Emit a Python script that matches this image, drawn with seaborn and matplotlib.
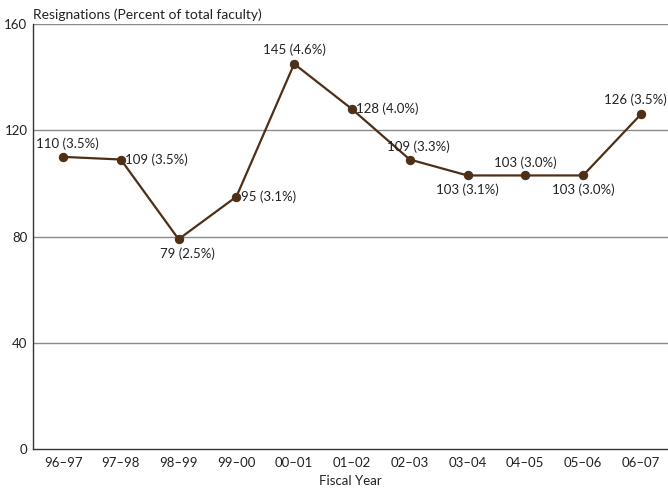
import matplotlib
matplotlib.use("Agg")
import matplotlib.pyplot as plt
import seaborn as sns
import pandas as pd

years = ["96–97", "97–98", "98–99", "99–00", "00–01", "01–02", "02–03", "03–04", "04–05", "05–06", "06–07"]
resignations = [110, 109, 79, 95, 145, 128, 109, 103, 103, 103, 126]
percents = ["3.5%", "3.5%", "2.5%", "3.1%", "4.6%", "4.0%", "3.3%", "3.1%", "3.0%", "3.0%", "3.5%"]
yticks = [0, 40, 80, 120, 160]

# label placement: (dx, dy, ha, va) in points
placements = [
    (3, 5, "center", "bottom"),
    (3, 0, "left", "center"),
    (6, -6, "center", "top"),
    (3, 0, "left", "center"),
    (0, 6, "center", "bottom"),
    (3, 0, "left", "center"),
    (6, 5, "center", "bottom"),
    (0, -6, "center", "top"),
    (0, 5, "center", "bottom"),
    (0, -6, "center", "top"),
    (-4, 6, "center", "bottom"),
]

sns.set_theme(style="white")
plt.rcParams["font.family"] = ["Lato", "DejaVu Sans"]

color = "#4e2f17"
fs = 9.5
df = pd.DataFrame({"year": years, "value": resignations, "x": range(len(years))})

fig = plt.figure(figsize=(6.68, 4.91), dpi=100)
ax = fig.add_axes([0.0494, 0.0855, 0.9506, 0.8655])

for y in yticks[1:]:
    ax.axhline(y, color="#8a8a8a", lw=1.0, zorder=0)

sns.lineplot(data=df, x="x", y="value", ax=ax, color=color, lw=1.6,
             marker="o", markersize=6, markeredgecolor=color, markerfacecolor=color)

for i, (v, p) in enumerate(zip(resignations, percents)):
    dx, dy, ha, va = placements[i]
    ax.annotate(f"{v} ({p})", (i, v), xytext=(dx, dy), textcoords="offset points",
                ha=ha, va=va, fontsize=fs, color="#222222")

ax.set_xlim(-0.52, 10.47)
ax.set_ylim(0, 160)
ax.set_xticks(range(len(years)))
ax.set_xticklabels(years, fontsize=fs, color="#222222")
ax.set_yticks(yticks)
ax.set_yticklabels([str(t) for t in yticks], fontsize=fs, color="#222222")
ax.tick_params(axis="y", length=0, pad=4)
ax.tick_params(axis="x", length=0, pad=6)
ax.set_xlabel("Fiscal Year", fontsize=fs, color="#222222", labelpad=4)
ax.set_ylabel("")
ax.text(0, 1.008, "Resignations (Percent of total faculty)", transform=ax.transAxes,
        ha="left", va="bottom", fontsize=10, color="#222222")

for s in ["top", "right"]:
    ax.spines[s].set_visible(False)
for s in ["left", "bottom"]:
    ax.spines[s].set_color("#333333")
    ax.spines[s].set_linewidth(1.0)

fig.savefig("out.png", dpi=100)
